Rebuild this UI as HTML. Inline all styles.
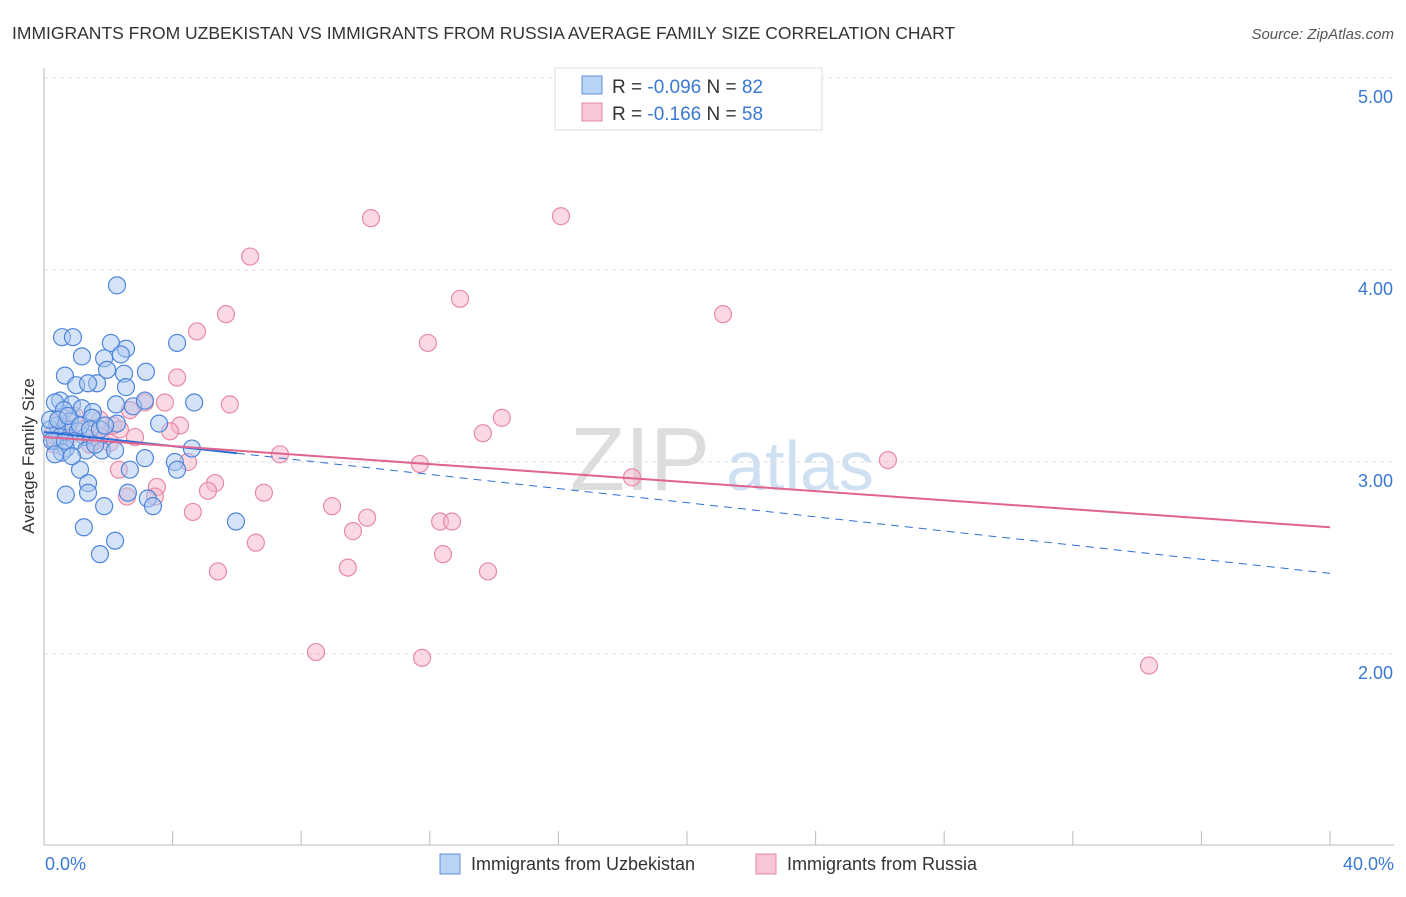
<!DOCTYPE html>
<html><head><meta charset="utf-8"><style>
body{margin:0;background:#fff;font-family:"Liberation Sans",sans-serif}
svg text{font-family:"Liberation Sans",sans-serif}
</style></head><body>
<svg width="1406" height="892">
<text x="12" y="39" font-size="17.5" fill="#333">IMMIGRANTS FROM UZBEKISTAN VS IMMIGRANTS FROM RUSSIA AVERAGE FAMILY SIZE CORRELATION CHART</text>
<text x="1394" y="39" font-size="15" fill="#555" font-style="italic" text-anchor="end">Source: ZipAtlas.com</text>
<text x="640" y="490" font-size="90" fill="#ddd" font-family="Liberation Serif" text-anchor="middle">ZIP</text>
<text x="800" y="490" font-size="70" fill="#cfe0f3" text-anchor="middle">atlas</text>
<g id="grid"></g><g id="axes"></g><g id="pts"></g><g id="trend"></g>
<text transform="translate(34,456) rotate(-90)" font-size="17" fill="#333" text-anchor="middle">Average Family Size</text>
<text x="45" y="870" font-size="18" fill="#3a78d4">0.0%</text>
<text x="1394" y="870" font-size="18" fill="#3a78d4" text-anchor="end">40.0%</text>
<g>
<rect x="555" y="68" width="267" height="62" fill="#fff" stroke="#ddd"/>
<rect x="582" y="76" width="20" height="18" fill="#b9d3f5" stroke="#5b8fde"/>
<rect x="582" y="103" width="20" height="18" fill="#f9c6d6" stroke="#e88aa7"/>
<text x="612" y="93" font-size="19" fill="#333">R = <tspan fill="#3a78d4">-0.096</tspan>   N = <tspan fill="#3a78d4">82</tspan></text>
<text x="612" y="120" font-size="19" fill="#333">R =  <tspan fill="#3a78d4">-0.166</tspan>   N = <tspan fill="#3a78d4">58</tspan></text>
</g>
<g>
<rect x="440" y="854" width="20" height="20" fill="#b9d3f5" stroke="#5b8fde"/>
<text x="471" y="870" font-size="18" fill="#333">Immigrants from Uzbekistan</text>
<rect x="756" y="854" width="20" height="20" fill="#f9c6d6" stroke="#e88aa7"/>
<text x="787" y="870" font-size="18" fill="#333">Immigrants from Russia</text>
</g>
</svg>
<script>
const yTicks=[2,3,4,5];
const yTickLabels=["2.00","3.00","4.00","5.00"];
const blueX=[2.27,.56,.90,2.08,2.55,1.18,1.87,2.39,1.96,2.49,.65,3.17,4.14,1.0,1.65,2.55,1.37,.50,.87,.34,1.18,2.24,1.52,1.49,4.67,2.77,3.14,3.58,2.27,.62,.81,.72,.40,.19,1.06,1.28,.50,.34,.96,.68,1.31,1.80,1.59,.56,2.21,3.14,4.60,4.07,4.14,1.12,2.67,1.37,.68,1.37,2.61,3.23,3.39,1.87,5.97,1.24,2.21,1.74,.19,.25,.44,.75,1.12,1.43,1.74,1.90,.65,.34,.87];
const blueY=[3.92,3.65,3.65,3.62,3.59,3.55,3.54,3.56,3.48,3.46,3.45,3.47,3.62,3.40,3.41,3.39,3.41,3.32,3.30,3.31,3.28,3.30,3.26,3.23,3.31,3.29,3.32,3.20,3.20,3.27,3.21,3.17,3.19,3.17,3.16,3.13,3.13,3.11,3.11,3.07,3.06,3.06,3.09,3.05,3.06,3.02,3.07,3.00,2.96,2.96,2.96,2.89,2.83,2.84,2.84,2.81,2.77,2.77,2.69,2.66,2.59,2.52,3.22,3.11,3.22,3.24,3.19,3.17,3.17,3.19,3.11,3.04,3.03];
const pinkX=[10.17,16.08,6.41,12.94,5.66,21.12,4.76,11.94,4.14,3.14,3.76,5.78,14.24,2.67,2.15,4.23,13.65,3.92,1.74,2.83,2.05,7.34,11.69,26.25,4.48,2.33,18.29,5.32,3.51,5.10,2.58,3.45,6.84,8.96,4.63,10.05,12.32,12.69,9.61,6.59,12.41,9.45,5.41,13.81,8.46,11.76,34.37,.50,.81,1.28,.34,1.59,.96,2.36,.65,1.74,.25,1.43];
const pinkY=[4.27,4.28,4.07,3.85,3.77,3.77,3.68,3.62,3.44,3.31,3.31,3.30,3.23,3.27,3.19,3.19,3.15,3.16,3.13,3.13,3.10,3.04,2.99,3.01,3.00,2.96,2.92,2.89,2.87,2.85,2.82,2.82,2.84,2.77,2.74,2.71,2.69,2.69,2.64,2.58,2.52,2.45,2.43,2.43,2.01,1.98,1.94,3.22,3.14,3.17,3.09,3.11,3.24,3.17,3.19,3.22,3.14,3.09];
const blueTrend=[3.156,2.42];
const pinkTrend=[3.13,2.66];
const NS="http://www.w3.org/2000/svg";
const sx=v=>44+v*32.15, sy=v=>78+(5-v)*192;
function mk(p,t,a){const e=document.createElementNS(NS,t);for(const k in a)e.setAttribute(k,a[k]);p.appendChild(e);return e;}
const grid=document.getElementById('grid'),axes=document.getElementById('axes'),pts=document.getElementById('pts'),tr=document.getElementById('trend');
yTicks.forEach((v,i)=>{
 const l=mk(grid,'line',{x1:44,x2:1394,y1:sy(v),y2:sy(v),stroke:'#ddd','stroke-dasharray':'4,4'});
 
 
 const t=mk(grid,'text',{x:1393,y:sy(v)+25,'font-size':18,fill:'#3a78d4','text-anchor':'end'});
 t.textContent=yTickLabels[i];
 
 
});
const ya=mk(axes,'line',{x1:44,x2:44,y1:68,y2:845,stroke:'#bbb'});


const xa=mk(axes,'line',{x1:44,x2:1394,y1:845,y2:845,stroke:'#bbb'});


for(let p=0;p<=40;p+=4){
 const t=mk(axes,'line',{x1:sx(p),x2:sx(p),y1:831,y2:845,stroke:'#bbb'});
 
 
}
function dots(X,Y,fill,stroke,name){X.forEach((x,i)=>{
 const c=mk(pts,'circle',{cx:sx(x),cy:sy(Y[i]),r:8.5,fill:fill,'fill-opacity':0.5,stroke:stroke,'stroke-width':1.2});
 
 
});}
dots(pinkX,pinkY,'#f5b3c8','#e88aa7','point-russia');
dots(blueX,blueY,'#a9c8f0','#4f86da','point-uzbekistan');
const b1=mk(tr,'line',{x1:sx(0),y1:sy(blueTrend[0]),x2:sx(6),y2:sy(blueTrend[0]+(blueTrend[1]-blueTrend[0])*6/40),stroke:'#2f6fd6','stroke-width':2});


const b2=mk(tr,'line',{x1:sx(6),y1:sy(blueTrend[0]+(blueTrend[1]-blueTrend[0])*6/40),x2:sx(40),y2:sy(blueTrend[1]),stroke:'#2f6fd6','stroke-width':1,'stroke-dasharray':'8,6'});


const p1=mk(tr,'line',{x1:sx(0),y1:sy(pinkTrend[0]),x2:sx(40),y2:sy(pinkTrend[1]),stroke:'#e0648e','stroke-width':2});


</script>
</body></html>
